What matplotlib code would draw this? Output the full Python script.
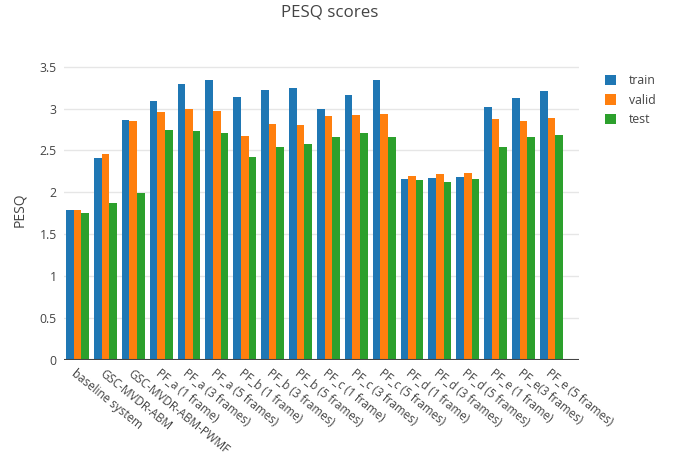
import numpy as np
import matplotlib.pyplot as plt

plt.rcParams['font.family'] = ['Open Sans', 'DejaVu Sans']

categories = ['baseline system', 'GSC-MVDR-ABM', 'GSC-MVDR-ABM-PWMF',
              'PF_a (1 frame)', 'PF_a (3 frames)', 'PF_a (5 frames)',
              'PF_b (1 frame)', 'PF_b (3 frames)', 'PF_b (5 frames)',
              'PF_c (1 frame)', 'PF_c (3 frames)', 'PF_c (5 frames)',
              'PF_d (1 frame)', 'PF_d (3 frames)', 'PF_d (5 frames)',
              'PF_e (1 frame)', 'PF_e(3 frames)', 'PF_e (5 frames)']

train = [1.79, 2.41, 2.86, 3.09, 3.29, 3.34, 3.14, 3.22, 3.25,
         2.99, 3.16, 3.34, 2.16, 2.17, 2.18, 3.02, 3.13, 3.21]
valid = [1.79, 2.46, 2.85, 2.96, 3.00, 2.97, 2.67, 2.82, 2.80,
         2.91, 2.92, 2.94, 2.20, 2.22, 2.23, 2.88, 2.85, 2.89]
test = [1.75, 1.87, 1.99, 2.75, 2.73, 2.71, 2.42, 2.54, 2.58,
        2.66, 2.71, 2.66, 2.15, 2.12, 2.16, 2.54, 2.66, 2.69]

series = [('train', train, '#1f77b4'),
          ('valid', valid, '#ff7f0e'),
          ('test', test, '#2ca02c')]

fig = plt.figure(figsize=(6.76, 4.57), dpi=100)
ax = fig.add_axes([0.0941, 0.2123, 0.7624, 0.6565])

x = np.arange(len(categories))
w = 0.82 / 3
for i, (name, vals, col) in enumerate(series):
    ax.bar(x + (i - 1) * w, vals, w, color=col, label=name, zorder=3)

ax.set_xlim(-0.5, len(categories) - 0.01)
ax.set_ylim(0, 3.58)
yt = np.arange(0, 3.51, 0.5)
ax.set_yticks(yt)
ax.set_yticklabels(['%g' % v for v in yt])
ax.grid(axis='y', color='#e6e6e6', linewidth=1, zorder=0)
ax.axhline(0, color='#444444', linewidth=1.5, zorder=4)
for s in ax.spines.values():
    s.set_visible(False)
ax.tick_params(axis='both', length=0, labelsize=8.8, labelcolor='#444444')
ax.tick_params(axis='y', pad=5)

ax.set_xticks(x)
ax.set_xticklabels(categories, rotation=-39, ha='left', va='top',
                   rotation_mode='anchor', fontsize=8.4)
ax.tick_params(axis='x', pad=5)

ax.set_ylabel('PESQ', fontsize=10, color='#444444', labelpad=9)
fig.suptitle('PESQ scores', x=0.488, y=0.99, fontsize=12.2, color='#444444')

ax.legend(loc='upper left', bbox_to_anchor=(1.03, 0.99), frameon=False,
          fontsize=8.8, handlelength=0.9, handleheight=0.9,
          handletextpad=1.0, labelspacing=0.55, labelcolor='#444444')

fig.savefig('out.png', dpi=100)
